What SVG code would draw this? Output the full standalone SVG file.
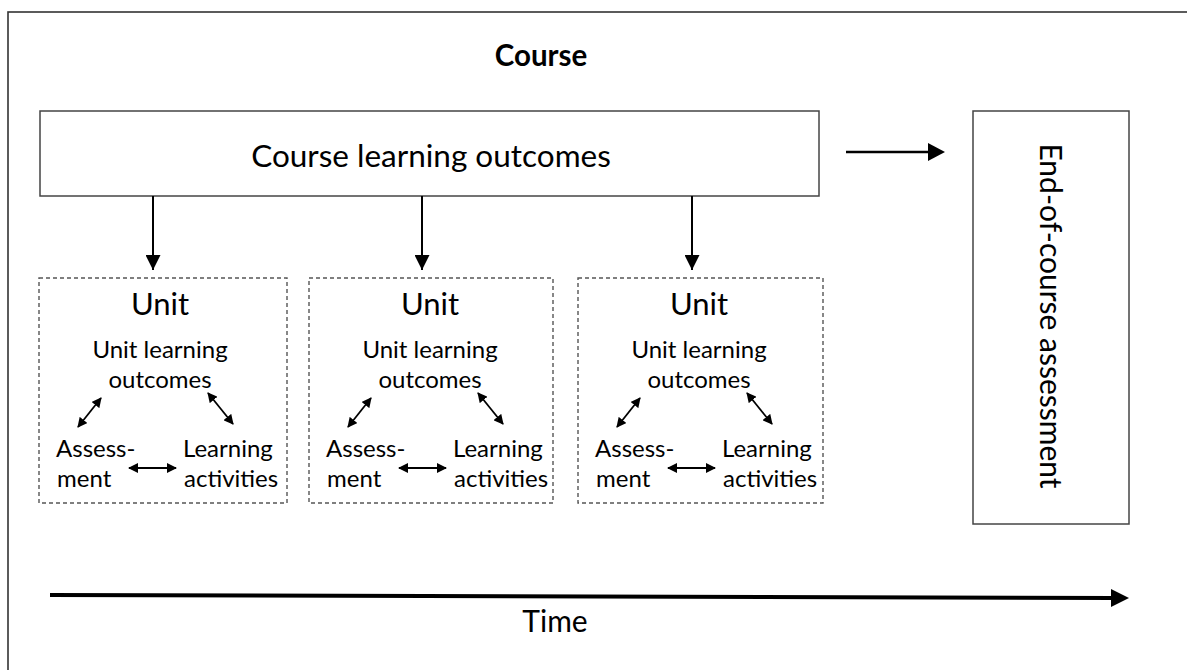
<svg xmlns="http://www.w3.org/2000/svg" width="1187" height="670" viewBox="0 0 1187 670">
<defs>
<style>
text{font-family:Lato,"Open Sans","Liberation Sans",sans-serif;fill:#000}
.box{fill:#fff;stroke:#444;stroke-width:1.5}
.dash{fill:none;stroke:#555;stroke-width:1.4;stroke-dasharray:4 3}
.big{font-size:31.5px}
.unit{font-size:31px}
.sm{font-size:24px}
.dbl{stroke:#000;stroke-width:1.8;fill:none;marker-start:url(#sh);marker-end:url(#sh)}
.down{stroke:#000;stroke-width:2;fill:none;marker-end:url(#dh)}
</style>
<marker id="sh" viewBox="0 0 10 10" refX="9" refY="5" markerWidth="10" markerHeight="10" markerUnits="userSpaceOnUse" orient="auto-start-reverse">
<path d="M0,0L10,5L0,10z" fill="#000"/>
</marker>
<marker id="dh" viewBox="0 0 10 10" refX="10" refY="5" markerWidth="15" markerHeight="15" markerUnits="userSpaceOnUse" orient="auto">
<path d="M0,0L10,5L0,10z" fill="#000"/>
</marker>
</defs>
<rect x="8" y="12" width="1200" height="700" fill="#fff" stroke="#333" stroke-width="1.6"/>
<g id="title"><text x="541" y="66" text-anchor="middle" font-size="29.5" font-weight="bold">Course</text></g>
<g id="course-outcomes">
<rect class="box" x="40" y="111" width="779" height="85"/>
<text class="big" x="431" y="167" text-anchor="middle">Course learning outcomes</text>
</g>
<g id="end-assessment">
<rect class="box" x="973" y="111" width="156" height="413"/>
<text transform="translate(1040,316) rotate(90)" text-anchor="middle" font-size="30">End-of-course assessment</text>
</g>
<g id="unit1">
<rect class="dash" x="39" y="278" width="248" height="225"/>
<text class="unit" x="160" y="315" text-anchor="middle">Unit</text>
<text class="sm" x="160" y="358" text-anchor="middle">Unit learning</text>
<text class="sm" x="160" y="388" text-anchor="middle">outcomes</text>
<text class="sm" x="56" y="457">Assess-</text>
<text class="sm" x="57" y="487">ment</text>
<text class="sm" x="183" y="457">Learning</text>
<text class="sm" x="184" y="487">activities</text>
</g>
<g id="unit2" transform="translate(270,0)">
<rect class="dash" x="39" y="278" width="244" height="225"/>
<text class="unit" x="160" y="315" text-anchor="middle">Unit</text>
<text class="sm" x="160" y="358" text-anchor="middle">Unit learning</text>
<text class="sm" x="160" y="388" text-anchor="middle">outcomes</text>
<text class="sm" x="56" y="457">Assess-</text>
<text class="sm" x="57" y="487">ment</text>
<text class="sm" x="183" y="457">Learning</text>
<text class="sm" x="184" y="487">activities</text>
</g>
<g id="unit3" transform="translate(539,0)">
<rect class="dash" x="39" y="278" width="245" height="225"/>
<text class="unit" x="160" y="315" text-anchor="middle">Unit</text>
<text class="sm" x="160" y="358" text-anchor="middle">Unit learning</text>
<text class="sm" x="160" y="388" text-anchor="middle">outcomes</text>
<text class="sm" x="56" y="457">Assess-</text>
<text class="sm" x="57" y="487">ment</text>
<text class="sm" x="183" y="457">Learning</text>
<text class="sm" x="184" y="487">activities</text>
</g>
<g id="time-label"><text x="555" y="632" text-anchor="middle" font-size="30">Time</text></g>
<g id="connectors">
<line class="down" x1="153" y1="196" x2="153" y2="270"/>
<line class="down" x1="422" y1="196" x2="422" y2="270"/>
<line class="down" x1="692" y1="196" x2="692" y2="270"/>
<line x1="846" y1="152" x2="930" y2="152" stroke="#000" stroke-width="2.6"/>
<path d="M928,143L945,152L928,161z" fill="#000"/>
<line x1="50" y1="595" x2="1113" y2="598" stroke="#000" stroke-width="4"/>
<path d="M1111,589L1129,598L1111,607z" fill="#000"/>
<g id="unit-arrows-1">
<line class="dbl" x1="78" y1="427" x2="101" y2="398"/>
<line class="dbl" x1="208" y1="393" x2="233" y2="424"/>
<line class="dbl" x1="129" y1="468" x2="176" y2="468"/>
</g>
<g id="unit-arrows-2" transform="translate(270,0)">
<line class="dbl" x1="78" y1="427" x2="101" y2="398"/>
<line class="dbl" x1="208" y1="393" x2="233" y2="424"/>
<line class="dbl" x1="129" y1="468" x2="176" y2="468"/>
</g>
<g id="unit-arrows-3" transform="translate(539,0)">
<line class="dbl" x1="78" y1="427" x2="101" y2="398"/>
<line class="dbl" x1="208" y1="393" x2="233" y2="424"/>
<line class="dbl" x1="129" y1="468" x2="176" y2="468"/>
</g>
</g>
</svg>
